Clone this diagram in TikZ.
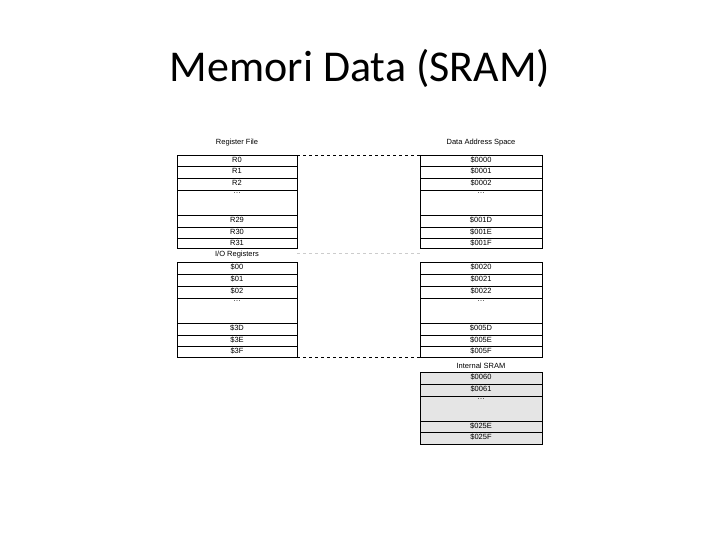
\documentclass[tikz,border=0pt]{standalone}
\usepackage{fontspec}
\setmainfont{Liberation Sans}
\newfontfamily\titlefont{Carlito}
\begin{document}
\begin{tikzpicture}[x=1pt, y=-1pt]
  \tikzset{cell/.style={rectangle, draw, line width=0.9pt, inner sep=0pt, minimum width=120pt, font=\fontsize{7.5}{8}\selectfont},
    sram/.style={cell, fill=gray!20},
    head/.style={font=\fontsize{7.5}{8}\selectfont, inner sep=0pt},
    link/.style={dashed, line width=0.9pt}}
  \useasboundingbox (0,0) rectangle (720,540);
  \node [font=\titlefont\fontsize{44}{48}\selectfont] (title) at (360,68) {Memori Data (SRAM)};

  \node [head] (rfhead) at (237,143) {Register File};
  \node [head] (dashead) at (481,143) {Data Address Space};
  \node [head] (iohead) at (237,255) {I/O Registers};
  \node [head] (sramhead) at (481,366) {Internal SRAM};

  % register file and matching addresses
  \foreach \name/\lab/\adr/\top/\bot in {r0/R0/\$0000/155/166, r1/R1/\$0001/166/178, r2/R2/\$0002/178/190,
      rd/\dots/\dots/190/215, r29/R29/\$001D/215/227, r30/R30/\$001E/227/238, r31/R31/\$001F/238/248,
      i0/\$00/\$0020/262/274, i1/\$01/\$0021/274/286, i2/\$02/\$0022/286/298, id/\dots/\dots/298/323,
      i3d/\$3D/\$005D/323/335, i3e/\$3E/\$005E/335/346, i3f/\$3F/\$005F/346/357} {
    \node [cell, minimum height=\bot-\top, anchor=north] (\name) at (237,\top) {};
    \node [head, anchor=north] at (237,\top+2) {\lab};
    \node [cell, minimum height=\bot-\top, anchor=north, minimum width=122pt] (a\name) at (481,\top) {};
    \node [head, anchor=north] at (481,\top+2) {\adr};
  }
  \foreach \name/\adr/\top/\bot in {s60/\$0060/372/384, s61/\$0061/384/396, sd/\dots/396/421,
      s25e/\$025E/421/432, s25f/\$025F/432/444} {
    \node [sram, minimum height=\bot-\top, anchor=north, minimum width=122pt] (\name) at (481,\top) {};
    \node [head, anchor=north] at (481,\top+2) {\adr};
  }

  \draw [link] (r0.north east) -- (ar0.north west);
  \draw [link, gray!40] (r31.south east) ++(0,5) -- ([yshift=-5pt]ar31.south west);
  \draw [link] (i3f.south east) -- (ai3f.south west);
\end{tikzpicture}
\end{document}
